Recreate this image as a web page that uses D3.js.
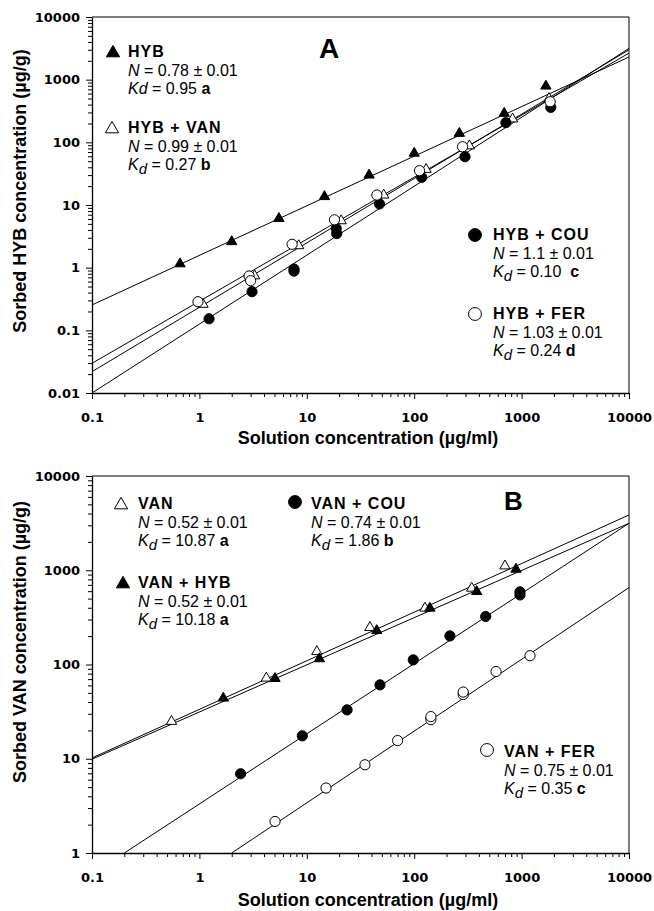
<!DOCTYPE html>
<html><head><meta charset="utf-8">
<script src="https://cdn.jsdelivr.net/npm/d3@7"></script>
<style>
body{margin:0;background:#fff}
svg{display:block}
.tick text{font-family:"DejaVu Sans",sans-serif;font-weight:bold;font-size:13px;fill:#000}
.title{font-family:"Liberation Sans",Arial,sans-serif;font-weight:bold;font-size:18px}
.lh{font-family:"Liberation Sans",Arial,sans-serif;font-weight:bold;font-size:16px;letter-spacing:1px}
.lt{font-family:"Liberation Sans",Arial,sans-serif;font-size:16px;white-space:pre}
.panel{font-family:"Liberation Sans",Arial,sans-serif;font-weight:bold}
</style>
</head><body><svg id="c" width="654" height="911"></svg>
<script>
// ---------- DATA ----------
const xTicks = [0.1, 1, 10, 100, 1000, 10000];
const xTickLabels = ["0.1", "1", "10", "100", "1000", "10000"];
const yTicksA = [0.01, 0.1, 1, 10, 100, 1000, 10000];
const yTickLabelsA = ["0.01", "0.1", "1", "10", "100", "1000", "10000"];
const yTicksB = [1, 10, 100, 1000, 10000];
const yTickLabelsB = ["1", "10", "100", "1000", "10000"];

// Panel A: sorbed HYB
const hybX = [0.66, 2.0, 5.5, 14.6, 38, 100, 263, 689, 1683];
const hybY = [1.15, 2.6, 6.1, 13.6, 30, 67, 139, 290, 790];
const hybVanX = [1.08, 3.27, 8.4, 20.9, 52, 129, 326, 824, 1800];
const hybVanY = [0.26, 0.74, 2.24, 5.6, 14.4, 37, 88, 236, 500];
const hybCouX = [1.23, 3.09, 7.6, 7.6, 18.8, 19, 47.5, 117.5, 297, 714, 1870];
const hybCouY = [0.153, 0.414, 0.88, 0.95, 4.2, 3.5, 10.4, 27.7, 59, 206, 362];
const hybFerX = [0.97, 2.9, 3.0, 7.3, 18.1, 44.9, 112, 282, 1845];
const hybFerY = [0.286, 0.736, 0.62, 2.36, 5.8, 14.4, 35.3, 85, 445];
// fitted lines A: [x0, y0, x1, y1]
const fitHyb = [0.1, 0.254, 10000, 2300];
const fitHybVan = [0.1, 0.0219, 10000, 3000];
const fitHybCou = [0.1, 0.01, 10000, 3160];
const fitHybFer = [0.1, 0.0298, 10000, 2650];

// Panel B: sorbed VAN
const vanX = [0.55, 4.2, 12.4, 38.7, 126, 343, 700];
const vanY = [24.9, 71.7, 137, 247, 396, 645, 1111];
const vanHybX = [1.67, 5.06, 13.1, 44.8, 140, 382, 887];
const vanHybY = [44, 71, 115, 229, 396, 594, 1025];
const vanCouX = [2.42, 9.08, 23.7, 48, 98, 215, 463, 966, 966];
const vanCouY = [6.93, 17.5, 33, 60.8, 112, 201, 323, 547, 590];
const vanFerX = [5.06, 15.1, 34.8, 70, 143, 143, 286, 286, 578, 1197];
const vanFerY = [2.16, 4.89, 8.63, 15.6, 26, 28, 48, 51, 84.3, 124];
const fitVan = [0.1, 10.2, 10000, 3860];
const fitVanHyb = [0.1, 9.9, 10000, 3150];
const fitVanCou = [0.2, 1, 10000, 3150];
const fitVanFer = [2.0, 1, 10000, 655];

// legend texts
const namesA = ["HYB", "HYB + VAN", "HYB + COU", "HYB + FER"];
const nA = ["0.78", "0.99", "1.1", "1.03"];
const kdA = ["0.95", "0.27", "0.10 ", "0.24"];
const grpA = ["a", "b", "c", "d"];
const namesB = ["VAN", "VAN + HYB", "VAN + COU", "VAN + FER"];
const nB = ["0.52", "0.52", "0.74", "0.75"];
const kdB = ["10.87", "10.18", "1.86", "0.35"];
const grpB = ["a", "a", "b", "c"];
const errTxt = "0.01";

// ---------- DRAW ----------
const svg = d3.select("#c");
svg.append("rect").attr("width", 654).attr("height", 911).attr("fill", "#fff");

function minorTicks(domain) {
  const out = [];
  for (let e = Math.round(Math.log10(domain[0])); e < Math.round(Math.log10(domain[1])); e++) {
    for (let m = 2; m <= 9; m++) out.push(m * Math.pow(10, e));
  }
  return out;
}

function drawPanel(cfg) {
  const g = svg.append("g");
  const x = d3.scaleLog().domain([0.1, 10000]).range([cfg.left, cfg.right]);
  const y = d3.scaleLog().domain(cfg.yDomain).range([cfg.bottom, cfg.top]);

  g.append("line").attr("x1", cfg.left).attr("x2", cfg.right).attr("y1", cfg.top).attr("y2", cfg.top)
    .attr("stroke", "#000").attr("stroke-width", 1);
  g.append("line").attr("x1", cfg.right).attr("x2", cfg.right).attr("y1", cfg.top).attr("y2", cfg.bottom)
    .attr("stroke", "#000").attr("stroke-width", 1);

  g.append("g").attr("transform", `translate(0,${cfg.bottom})`)
    .call(d3.axisBottom(x).tickValues(minorTicks([0.1, 10000])).tickFormat("").tickSize(4).tickSizeOuter(0))
    .call(a => a.select(".domain").remove());
  g.append("g").attr("transform", `translate(${cfg.left},0)`)
    .call(d3.axisLeft(y).tickValues(minorTicks(cfg.yDomain)).tickFormat("").tickSize(4).tickSizeOuter(0))
    .call(a => a.select(".domain").remove());
  g.append("g").attr("transform", `translate(0,${cfg.bottom})`)
    .call(d3.axisBottom(x).tickValues(xTicks).tickFormat((d, i) => xTickLabels[i]).tickSize(6).tickSizeOuter(0).tickPadding(13.5))
    .call(a => a.select(".domain").attr("stroke-width", 1.3));
  g.append("g").attr("transform", `translate(${cfg.left},0)`)
    .call(d3.axisLeft(y).tickValues(cfg.yTicks).tickFormat((d, i) => cfg.yLabels[i]).tickSize(6).tickSizeOuter(0).tickPadding(6))
    .call(a => a.select(".domain").attr("stroke-width", 1.3));

  const clipId = "clip" + cfg.id;
  svg.append("clipPath").attr("id", clipId).append("rect")
    .attr("x", cfg.left).attr("y", cfg.top).attr("width", cfg.right - cfg.left).attr("height", cfg.bottom - cfg.top);
  const plot = g.append("g").attr("clip-path", `url(#${clipId})`);
  cfg.fits.forEach(f => {
    plot.append("line").attr("x1", x(f[0])).attr("y1", y(f[1])).attr("x2", x(f[2])).attr("y2", y(f[3]))
      .attr("stroke", "#000").attr("stroke-width", 1);
  });

  const sym = {
    tri: d3.symbol(d3.symbolTriangle).size(46),
    cir: d3.symbol(d3.symbolCircle).size(82)
  };
  cfg.series.forEach(s => {
    plot.selectAll(null).data(s.xs.map((v, i) => [v, s.ys[i]])).join("path")
      .attr("d", sym[s.shape]())
      .attr("transform", d => `translate(${x(d[0])},${y(d[1])})`)
      .attr("fill", s.filled ? "#000" : "#fff")
      .attr("stroke", "#000").attr("stroke-width", 1);
  });

  g.append("text").attr("class", "title").attr("text-anchor", "middle")
    .attr("x", cfg.xTitlePos[0]).attr("y", cfg.xTitlePos[1]).text("Solution concentration (\u00B5g/ml)");
  g.append("text").attr("class", "title").attr("text-anchor", "middle")
    .attr("transform", `translate(${cfg.yTitlePos[0]},${cfg.yTitlePos[1]}) rotate(-90)`).text(cfg.yTitle);

  g.append("text").attr("class", "panel").attr("x", cfg.letterPos[0]).attr("y", cfg.letterPos[1])
    .attr("font-size", cfg.letterSize).text(cfg.letter);

  const lsym = {
    tri: d3.symbol(d3.symbolTriangle).size(76),
    cir: d3.symbol(d3.symbolCircle).size(130)
  };
  cfg.legend.forEach(L => {
    const s = cfg.series[L.s];
    g.append("path").attr("d", lsym[s.shape]()).attr("transform", `translate(${L.m[0]},${L.m[1]})`)
      .attr("fill", s.filled ? "#000" : "#fff").attr("stroke", "#000").attr("stroke-width", 1);
    const lh = 18.5;
    g.append("text").attr("class", "lh").attr("x", L.t[0]).attr("y", L.t[1]).text(cfg.names[L.s]);
    const t2 = g.append("text").attr("class", "lt").attr("x", L.t[0]).attr("y", L.t[1] + lh);
    t2.append("tspan").attr("font-style", "italic").text("N");
    t2.append("tspan").text(" = " + cfg.ns[L.s] + " \u00B1 " + errTxt);
    const t3 = g.append("text").attr("class", "lt").attr("x", L.t[0]).attr("y", L.t[1] + 2 * lh);
    t3.append("tspan").attr("font-style", "italic").text("K");
    if (L.sub) {
      t3.append("tspan").attr("font-style", "italic").attr("dy", 4).attr("font-size", 15).text("d");
      t3.append("tspan").attr("dy", -4).text(" = " + cfg.kds[L.s] + " ");
    } else {
      t3.append("tspan").attr("font-style", "italic").text("d");
      t3.append("tspan").text(" = " + cfg.kds[L.s] + " ");
    }
    t3.append("tspan").attr("font-weight", "bold").text(cfg.grps[L.s]);
  });
}

drawPanel({
  id: "A", left: 92, right: 629, top: 17, bottom: 393,
  yDomain: [0.01, 10000], yTicks: yTicksA, yLabels: yTickLabelsA,
  fits: [fitHyb, fitHybVan, fitHybCou, fitHybFer],
  series: [
    {xs: hybX, ys: hybY, shape: "tri", filled: true},
    {xs: hybVanX, ys: hybVanY, shape: "tri", filled: false},
    {xs: hybCouX, ys: hybCouY, shape: "cir", filled: true},
    {xs: hybFerX, ys: hybFerY, shape: "cir", filled: false}
  ],
  xTitlePos: [368, 444], yTitlePos: [26, 191], yTitle: "Sorbed HYB concentration (\u00B5g/g)",
  letter: "A", letterPos: [319, 58], letterSize: 28,
  names: namesA, ns: nA, kds: kdA, grps: grpA,
  legend: [
    {s: 0, m: [113, 53], t: [128, 57], sub: false},
    {s: 1, m: [112, 129], t: [128, 133], sub: true},
    {s: 2, m: [475, 235], t: [493, 240], sub: true},
    {s: 3, m: [475, 314], t: [493, 319], sub: true}
  ]
});

drawPanel({
  id: "B", left: 92, right: 629, top: 476, bottom: 853,
  yDomain: [1, 10000], yTicks: yTicksB, yLabels: yTickLabelsB,
  fits: [fitVan, fitVanHyb, fitVanCou, fitVanFer],
  series: [
    {xs: vanX, ys: vanY, shape: "tri", filled: false},
    {xs: vanHybX, ys: vanHybY, shape: "tri", filled: true},
    {xs: vanCouX, ys: vanCouY, shape: "cir", filled: true},
    {xs: vanFerX, ys: vanFerY, shape: "cir", filled: false}
  ],
  xTitlePos: [368, 906], yTitlePos: [26, 642], yTitle: "Sorbed VAN concentration (\u00B5g/g)",
  letter: "B", letterPos: [504, 510], letterSize: 26,
  names: namesB, ns: nB, kds: kdB, grps: grpB,
  legend: [
    {s: 0, m: [121, 505], t: [138, 509], sub: true},
    {s: 1, m: [123, 584], t: [138, 588], sub: true},
    {s: 2, m: [295, 502], t: [311, 509], sub: true},
    {s: 3, m: [487, 750], t: [504, 757], sub: true}
  ]
});
</script></body></html>
